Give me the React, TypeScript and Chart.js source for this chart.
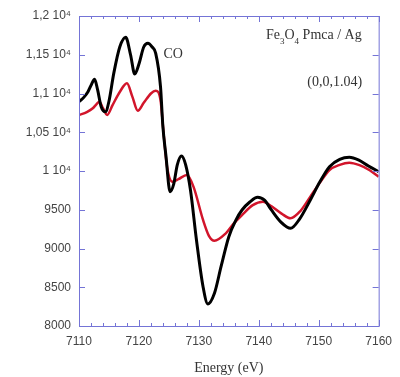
import React, { useEffect, useRef } from "react";
import { Chart, registerables } from "chart.js";
Chart.register(...registerables);

const blackEnergy = [7110, 7110.8, 7111.5, 7112.1, 7112.6, 7113.1, 7113.7, 7114.4, 7115, 7115.8, 7116.8, 7117.8, 7118.6, 7119.3, 7120, 7120.8, 7121.5, 7122.2, 7122.8, 7123.6, 7124, 7124.5, 7125.2, 7125.8, 7126.4, 7127.1, 7127.8, 7128.6, 7129.6, 7130.7, 7131.5, 7132.6, 7133.7, 7135, 7136.2, 7137.2, 7138.5, 7139.8, 7141, 7142.1, 7143.7, 7145.3, 7146.8, 7148.6, 7150.2, 7151.8, 7153.5, 7155.1, 7156.7, 7158.3, 7160];
const blackValues = [10894, 10950, 11023, 11120, 11183, 11050, 10830, 10765, 10900, 11260, 11600, 11725, 11500, 11252, 11380, 11600, 11647, 11600, 11518, 11088, 10572, 10200, 9733, 9830, 10080, 10194, 10080, 9755, 9110, 8507, 8284, 8422, 8765, 9152, 9370, 9497, 9600, 9660, 9620, 9497, 9340, 9260, 9380, 9626, 9860, 10056, 10150, 10177, 10140, 10065, 9991];

const redEnergy = [7110, 7111.3, 7112.3, 7112.9, 7113.4, 7114, 7114.7, 7115.6, 7116.8, 7118, 7118.9, 7119.8, 7120.8, 7122, 7122.8, 7123.6, 7124.1, 7124.7, 7125.6, 7126.6, 7128, 7129.1, 7130.7, 7131.7, 7132.6, 7134.5, 7135.8, 7137.2, 7139, 7140.7, 7142.2, 7143.8, 7145.3, 7146.9, 7148.6, 7150.2, 7151.8, 7153.5, 7155.1, 7156.8, 7158.5, 7160];
const redValues = [10723, 10760, 10809, 10860, 10894, 10810, 10723, 10850, 11020, 11131, 10960, 10778, 10880, 11000, 11036, 10916, 10500, 10050, 9862, 9895, 9948, 9798, 9368, 9160, 9101, 9196, 9320, 9432, 9560, 9604, 9540, 9450, 9390, 9480, 9669, 9850, 10013, 10080, 10107, 10075, 10010, 9926];

const yTickValues = [8000, 8500, 9000, 9500, 10000, 10500, 11000, 11500, 12000];
const yTickLabels = ["8000", "8500", "9000", "9500", "1 10⁴", "1,05 10⁴", "1,1 10⁴", "1,15 10⁴", "1,2 10⁴"];
const xTickValues = [7110, 7120, 7130, 7140, 7150, 7160];

const AXIS_COLOR = "#7474d6";

const framePlugin = {
  id: "frame",
  afterDatasetsDraw(chart: any) {
    const { ctx, chartArea, scales } = chart;
    const x = scales.x;
    const y = scales.y;
    ctx.save();
    ctx.strokeStyle = AXIS_COLOR;
    ctx.lineWidth = 1;
    ctx.strokeRect(chartArea.left + 0.5, chartArea.top + 0.5, chartArea.right - chartArea.left, chartArea.bottom - chartArea.top);
    ctx.beginPath();
    for (let e = 7110; e <= 7160; e += 2) {
      const px = Math.round(x.getPixelForValue(e)) + 0.5;
      const len = (e - 7110) % 10 === 0 ? 6 : 3;
      ctx.moveTo(px, chartArea.bottom);
      ctx.lineTo(px, chartArea.bottom - len);
      ctx.moveTo(px, chartArea.top);
      ctx.lineTo(px, chartArea.top + len);
    }
    for (const v of yTickValues) {
      const py = Math.round(y.getPixelForValue(v)) + 0.5;
      ctx.moveTo(chartArea.left, py);
      ctx.lineTo(chartArea.left + 6, py);
      ctx.moveTo(chartArea.right, py);
      ctx.lineTo(chartArea.right - 6, py);
    }
    ctx.stroke();

    // annotations
    ctx.fillStyle = "#333";
    ctx.textBaseline = "alphabetic";
    ctx.textAlign = "left";
    const serif = (s: number) => `${s}px "Liberation Serif", "DejaVu Serif", serif`;
    ctx.font = serif(14);
    ctx.fillText("CO", x.getPixelForValue(7124.1), y.getPixelForValue(11460));

    let tx = x.getPixelForValue(7141.2);
    const ty = y.getPixelForValue(11700);
    ctx.font = serif(14);
    ctx.fillText("Fe", tx, ty);
    tx += ctx.measureText("Fe").width;
    ctx.font = serif(9);
    ctx.fillText("3", tx, ty + 5);
    tx += ctx.measureText("3").width;
    ctx.font = serif(14);
    ctx.fillText("O", tx, ty);
    tx += ctx.measureText("O").width;
    ctx.font = serif(9);
    ctx.fillText("4", tx, ty + 5);
    tx += ctx.measureText("4").width;
    ctx.font = serif(14);
    ctx.fillText(" Pmca / Ag", tx, ty);

    ctx.font = serif(14);
    ctx.fillText("(0,0,1.04)", x.getPixelForValue(7148.1), y.getPixelForValue(11100));
    ctx.restore();
  },
};

export default function App() {
  const ref = useRef<HTMLCanvasElement | null>(null);
  useEffect(() => {
    document.body.style.margin = "0";
    const canvas = ref.current;
    if (!canvas) return;
    const chart = new Chart(canvas, {
      type: "line",
      data: {
        datasets: [
          {
            label: "black",
            data: blackEnergy.map((e, i) => ({ x: e, y: blackValues[i] })),
            borderColor: "#000000",
            borderWidth: 3,
            pointRadius: 0,
            cubicInterpolationMode: "monotone",
            fill: false,
          },
          {
            label: "red",
            data: redEnergy.map((e, i) => ({ x: e, y: redValues[i] })),
            borderColor: "#d2152b",
            borderWidth: 2.5,
            pointRadius: 0,
            cubicInterpolationMode: "monotone",
            fill: false,
          },
        ],
      },
      options: {
        animation: false,
        responsive: false,
        maintainAspectRatio: false,
        layout: { padding: { top: 16, right: 13, left: 0, bottom: 0 } },
        plugins: { legend: { display: false }, tooltip: { enabled: false }, title: { display: false } },
        scales: {
          x: {
            type: "linear",
            min: 7110,
            max: 7160,
            afterBuildTicks: (scale: any) => {
              scale.ticks = xTickValues.map((v) => ({ value: v }));
            },
            afterFit: (scale: any) => {
              scale.height = 51;
            },
            grid: { display: false, drawTicks: false },
            border: { display: false },
            ticks: {
              padding: 8,
              color: "#444",
              font: { family: '"Liberation Sans", Arial, sans-serif', size: 12 },
              maxRotation: 0,
              callback: (v: any) => String(v),
            },
            title: {
              display: true,
              text: "Energy (eV)",
              color: "#333",
              font: { family: '"Liberation Serif", serif', size: 14 },
              padding: { top: 0, bottom: 0 },
            },
          },
          y: {
            type: "linear",
            min: 8000,
            max: 12000,
            afterBuildTicks: (scale: any) => {
              scale.ticks = yTickValues.map((v) => ({ value: v }));
            },
            afterFit: (scale: any) => {
              scale.width = 79;
            },
            grid: { display: false, drawTicks: false },
            border: { display: false },
            ticks: {
              padding: 8,
              color: "#444",
              font: { family: '"Liberation Sans", Arial, sans-serif', size: 12 },
              callback: (v: any) => {
                const i = yTickValues.indexOf(Number(v));
                return i >= 0 ? yTickLabels[i] : "";
              },
            },
          },
        },
      },
      plugins: [framePlugin],
    } as any);
    return () => chart.destroy();
  }, []);
  return (
    <div style={{ width: 400, height: 377 }}>
      <canvas ref={ref} width={400} height={377} style={{ display: "block", width: 400, height: 377 }} />
    </div>
  );
}
